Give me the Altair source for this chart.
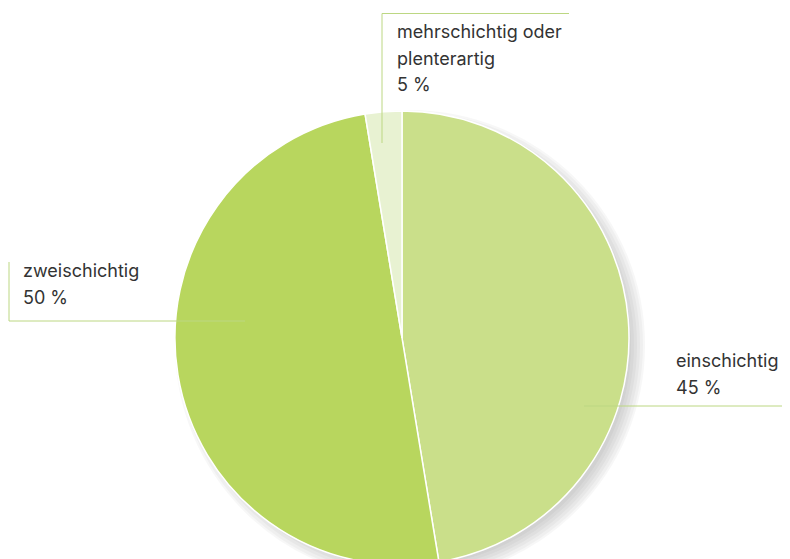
import altair as alt
import pandas as pd

categories = ["einschichtig", "zweischichtig", "mehrschichtig oder plenterartig"]
values = [47.4, 50.0, 2.6]
label_lines = [["einschichtig", "45 %"], ["zweischichtig", "50 %"], ["mehrschichtig oder", "plenterartig", "5 %"]]
colors = ["#cadf8a", "#b8d65e", "#e8f2d2"]

W, H = 774, 551
CX, CY, R = 394, 330, 227
LINE_COLOR = "#bcd782"
TEXT_COLOR = "#333333"
FONT = "Inter"
FS = 18
LH = 26.5

df = pd.DataFrame({"category": categories, "value": values, "order": list(range(len(categories)))})
one = pd.DataFrame({"k": [0]})

# soft drop shadow to the lower right
shadow_layers = []
for dr in [-6, -3, 0, 3, 6, 8]:
    shadow_layers.append(
        alt.Chart(one).mark_arc(
            theta=0, theta2=6.2832, outerRadius=R + dr, color="#000000", opacity=0.03
        ).encode(x=alt.value(CX + 8), y=alt.value(CY + 7))
    )

pie = alt.Chart(df).mark_arc(outerRadius=R, stroke="white", strokeWidth=1.5).encode(
    theta=alt.Theta("value:Q", stack=True),
    order=alt.Order("order:Q"),
    color=alt.Color("category:N", scale=alt.Scale(domain=categories, range=colors), legend=None),
    x=alt.value(CX),
    y=alt.value(CY),
)


def rule(x1, y1, x2, y2):
    return alt.Chart(one).mark_rule(color=LINE_COLOR, strokeWidth=1).encode(
        x=alt.value(x1), x2=alt.value(x2), y=alt.value(y1), y2=alt.value(y2)
    )

leaders = [
    # einschichtig
    rule(576, 398, 782, 398),
    # zweischichtig
    rule(1, 254, 1, 313),
    rule(1, 313, 237, 313),
    # mehrschichtig
    rule(374, 5.5, 374, 135),
    rule(374, 5.5, 561, 5.5),
]

label_pos = [(668, 359), (15, 269), (389, 30)]
texts = []
for lines, (tx, ty) in zip(label_lines, label_pos):
    texts.append(
        alt.Chart(one).mark_text(
            text=lines, align="left", baseline="alphabetic", font=FONT, fontSize=FS,
            fontWeight=400, color=TEXT_COLOR, lineHeight=LH
        ).encode(x=alt.value(tx), y=alt.value(ty))
    )

chart = alt.layer(*shadow_layers, pie, *leaders, *texts).properties(
    width=W, height=H, autosize=alt.AutoSizeParams(type="none"), padding=0
).configure_view(stroke=None)

chart.save("out.html", embed_options={"renderer": "svg", "actions": False})
